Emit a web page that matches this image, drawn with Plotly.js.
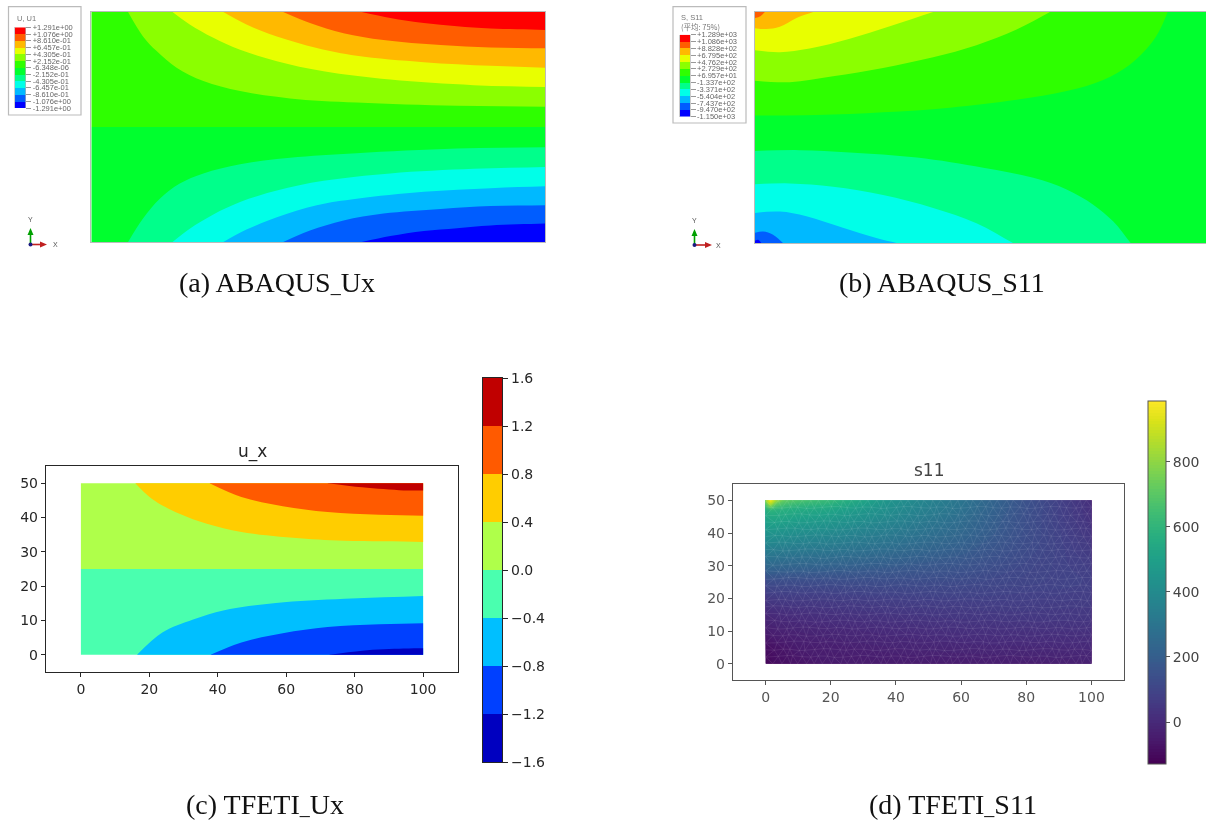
<!DOCTYPE html>
<html><head><meta charset="utf-8">
<script src="https://cdn.plot.ly/plotly-3.0.1.min.js"></script>
<style>html,body{margin:0;padding:0;background:#fff}#g{width:1206px;height:820px}</style>
</head><body><div id="g"></div>
<script>
// ---- Shared band colours ----
const abqColors = ['#0000ff','#005dff','#00b9ff','#00ffe8','#00ff8b','#00ff2e','#2eff00','#8bff00','#e8ff00','#ffb900','#ff5d00','#ff0000'];
const jetColors = ['#0000c0','#0040ff','#00bfff','#4affaf','#afff4a','#ffcd00','#ff5a00','#c00000'];

// ---- Legend labels ----
const uLabels = ['-1.291e+00','-1.076e+00','-8.610e-01','-6.457e-01','-4.305e-01','-2.152e-01','-6.348e-06','+2.152e-01','+4.305e-01','+6.457e-01','+8.610e-01','+1.076e+00','+1.291e+00'];
const sLabels = ['-1.150e+03','-9.470e+02','-7.437e+02','-5.404e+02','-3.371e+02','-1.337e+02','+6.957e+01','+2.729e+02','+4.762e+02','+6.795e+02','+8.828e+02','+1.086e+03','+1.289e+03'];
const jetLevels = [-1.4,-1.0,-0.6,-0.2,0.2,0.6,1.0,1.4];
const jetTicks = [-1.6,-1.2,-0.8,-0.4,0,0.4,0.8,1.2,1.6];
const jetTickText = ['\u22121.6','\u22121.2','\u22120.8','\u22120.4','0.0','0.4','0.8','1.2','1.6'];

// ---- (a) ABAQUS Ux: band edges, upper half (top edge -> right edge) ----
const aLimeX=[8.1,11.4,14.4,18.8,24.7,32.8,43.8,58.5,80.6,100];
const aLimeY=[50,44.7,41.5,37.9,35,32.8,31.2,30.3,29.6,29.4];
const aYellowX=[17.9,21.7,26.9,32.8,40.9,51.2,65.9,84.3,100];
const aYellowY=[50,47.3,44.4,41.8,39.3,37.1,35.3,34.1,33.7];
const aOrangeX=[29.1,34.2,40.9,49.7,58.5,73.3,88,100];
const aOrangeY=[50,47.3,44.7,42.2,40.5,39.1,38.3,37.9];
const aDarkOrangeX=[42.3,48.2,55.6,64.4,77,88,100];
const aDarkOrangeY=[50,47.6,45.4,43.9,42.8,42.3,42.1];
const aRedX=[59.6,65.9,73.3,80.6,88,100];
const aRedY=[50,48.7,47.6,46.9,46.4,46.1];
// lower half (bottom edge -> right edge)
const aSpringX=[8.1,11.4,15.1,19.5,24.7,32.8,43.8,58.5,80.6,100];
const aSpringY=[0,5.1,9.4,12.7,14.9,16.9,18.3,19.3,20.3,20.6];
const aCyanX=[17.9,21.7,26.9,32.8,40.9,51.2,65.9,84.3,100];
const aCyanY=[0,2.9,6,8.7,11.2,13.3,14.9,15.9,16.3];
const aSkyX=[29.1,34.2,40.9,49.7,58.5,73.3,88,100];
const aSkyY=[0,2.7,5.4,8,9.4,10.9,11.7,12.1];
const aAzureX=[42.3,48.2,55.6,64.4,77,88,100];
const aAzureY=[0,2.5,4.7,6.2,7.2,7.8,8];
const aBlueX=[59.6,65.9,73.3,80.6,88,100];
const aBlueY=[0,1.3,2.4,3,3.6,4];

// ---- (b) ABAQUS S11: band edges, upper left (left edge -> top edge) ----
const bGreenX=[0,13.6,28.4,43.2,58,69.1,77.2,83.1,87.6,89.8,91.5];
const bGreenY=[27.6,27.7,28.3,29.3,31,32.9,35.3,38.6,42.9,46.2,50];
const bLimeX=[0,7.7,17.3,28.4,39.5,49.1,58,65.4];
const bLimeY=[35.1,34.8,36.1,37.9,40.2,42.8,46.2,50];
const bYellowX=[0,5.5,12.1,21,29.9,39.5];
const bYellowY=[41.7,41.3,42.1,44.2,46.9,50];
const bOrangeX=[0,2.5,5.5,9.2,12.9];
const bOrangeY=[46.5,46.3,46.8,48.7,50];
const bDarkOrangeX=[0,1.2,2.2];
const bDarkOrangeY=[48.7,49.1,50];
// lower left (left edge -> bottom edge)
const bSpringX=[0,9.9,21,35.9,50.6,61.7,69.1,75,79.4,83.3];
const bSpringY=[19.9,20.1,19.6,18.5,16.3,14.1,11.6,8.3,4.7,0];
const bCyanX=[0,7.7,17.3,28.4,39.5,49.1,57.2];
const bCyanY=[12.7,12.9,12.2,10.4,7.6,4.3,0];
const bSkyX=[0,5.5,11.4,19.5,26.9,31.4];
const bSkyY=[6.5,6.8,5.8,3.3,1.1,0];
const bAzureX=[0,1.8,4,6.2];
const bAzureY=[2.2,2.5,1.8,0];
const bBlueX=[0,0.7,1.4];
const bBlueY=[0.5,0.7,0];

// ---- (c) TFETI Ux: band edges ----
const cOrangeX=[15.9,20.7,28.8,36.8,46.9,62,77.1,100];
const cOrangeY=[50,45.5,41.1,38.2,35.8,34.1,33.2,32.9];
const cDarkOrangeX=[37.6,46.9,59,72.1,87.2,100];
const cDarkOrangeY=[50,46,43.3,41.6,40.8,40.5];
const cDarkRedX=[72.1,82.2,94.3,100];
const cDarkRedY=[50,48.8,47.9,47.9];
const cSkyX=[16.4,23.8,32.8,41.9,57,77.1,100];
const cSkyY=[0,6.5,10.3,13,15.1,16.3,17.1];
const cBlueX=[37.9,46.9,59,72.1,87.2,100];
const cBlueY=[0,3.6,6.3,8.1,8.9,9.2];
const cNavyX=[72.6,82.2,94.3,100];
const cNavyY=[0,1.2,1.8,1.9];

// ---- (d) TFETI S11: field ----
const dX=[0,1.5,3,6,10,20,40,60,80,100];
const dY=[0,5,10,15,20,25,30,35,40,45,47,48.5,50];
const dZ00=[-110,-100,-90,-80,-70,-50,-45,-40,-35,-25];
const dZ05=[-90,-80,-70,-60,-45,-35,-20,-10,-5,0];
const dZ10=[-40,-35,-30,-25,-20,-10,5,20,25,25];
const dZ15=[0,0,5,10,15,25,40,50,55,50];
const dZ20=[60,60,60,65,65,70,80,85,80,70];
const dZ25=[130,130,130,130,130,130,130,120,100,85];
const dZ30=[250,245,240,235,230,220,190,160,110,75];
const dZ35=[350,345,340,335,325,310,260,200,125,60];
const dZ40=[450,445,440,430,415,390,320,240,135,45];
const dZ45=[530,540,540,530,510,480,380,270,140,30];
const dZ47=[580,600,590,570,550,520,400,285,145,25];
const dZ48=[680,800,700,640,610,570,415,295,148,22];
const dZ50=[820,980,850,720,680,620,430,300,150,20];
const sTicks=[0,200,400,600,800];
// approximate FE mesh: node columns, rows and small irregular node offsets
const meshX=[0,2.6,5.1,7.4,10.1,12.4,15.2,17.6,20.1,22.7,25.0,27.4,30.1,32.6,35.2,37.4,40.0,42.7,45.1,47.6,50.2,52.4,55.1,57.7,60.0,62.6,65.2,67.4,70.1,72.6,75.0,77.7,80.2,82.4,85.1,87.6,90.0,92.6,95.1,97.4,100];
const meshY=[0,2.2,4.3,6.6,8.7,10.9,13.0,15.2,17.4,19.5,21.8,23.9,26.1,28.2,30.4,32.5,34.8,36.9,39.1,41.2,43.4,45.6,47.8,50];
const meshOffX=[0.3,-0.25,0.1,-0.35,0.2,0.4,-0.1,-0.3,0.05,0.25,-0.2];
const meshOffY=[-0.2,0.25,0.05,-0.3,0.15,-0.05,0.3,-0.2,0.1];

const W=1206,H=820;
const hDom=(a,b)=>[a/W,b/W];
const vDom=(t,b)=>[1-b/H,1-t/H];
// a band is its edge curve, carried on past the data rectangle and closed round the outside of it
const band=(xs,ys,cx,cy,color,i)=>{
  const n=xs.length-1;
  const ex=xs[n]+(xs[n]-xs[n-1]), ey=ys[n]+(ys[n]-ys[n-1]);
  return {type:'scatter',mode:'lines',x:xs.concat([ex,cx+(cx>50?40:-40)]),y:ys.concat([ey,cy+(cy>25?40:-40)]),fill:'toself',fillcolor:color,
    line:{width:0,shape:'spline',smoothing:1},xaxis:'x'+i,yaxis:'y'+i,hoverinfo:'skip',showlegend:false};
};
const rect=(y0,y1,color,i)=>({type:'scatter',mode:'lines',x:[0,100,100,0,0],y:[y0,y0,y1,y1,y0],fill:'toself',fillcolor:color,
  line:{width:0},xaxis:'x'+i,yaxis:'y'+i,hoverinfo:'skip',showlegend:false});
const stepScale=cols=>{const s=[];cols.forEach((c,i)=>{s.push([i/cols.length,c]);s.push([(i+1)/cols.length,c]);});return s;};
const C=abqColors, J=jetColors;
const traces=[
 rect(25,50,C[6],1),rect(0,25,C[5],1),
 band(aLimeX,aLimeY,100,50,C[7],1),band(aYellowX,aYellowY,100,50,C[8],1),band(aOrangeX,aOrangeY,100,50,C[9],1),
 band(aDarkOrangeX,aDarkOrangeY,100,50,C[10],1),band(aRedX,aRedY,100,50,C[11],1),
 band(aSpringX,aSpringY,100,0,C[4],1),band(aCyanX,aCyanY,100,0,C[3],1),band(aSkyX,aSkyY,100,0,C[2],1),
 band(aAzureX,aAzureY,100,0,C[1],1),band(aBlueX,aBlueY,100,0,C[0],1),

 rect(0,50,C[5],2),
 band(bGreenX,bGreenY,0,50,C[6],2),band(bLimeX,bLimeY,0,50,C[7],2),band(bYellowX,bYellowY,0,50,C[8],2),
 band(bOrangeX,bOrangeY,0,50,C[9],2),band(bDarkOrangeX,bDarkOrangeY,0,50,C[10],2),
 band(bSpringX,bSpringY,0,0,C[4],2),band(bCyanX,bCyanY,0,0,C[3],2),band(bSkyX,bSkyY,0,0,C[2],2),
 band(bAzureX,bAzureY,0,0,C[1],2),band(bBlueX,bBlueY,0,0,C[0],2),

 rect(25,50,J[4],3),rect(0,25,J[3],3),
 // panel (c) bands sit on an overlay axis pair that spans exactly the data rectangle, so they clip to it
 band(cOrangeX,cOrangeY,100,50,J[5],8),band(cDarkOrangeX,cDarkOrangeY,100,50,J[6],8),band(cDarkRedX,cDarkRedY,100,50,J[7],8),
 band(cSkyX,cSkyY,100,0,J[2],8),band(cBlueX,cBlueY,100,0,J[1],8),band(cNavyX,cNavyY,100,0,J[0],8),

 {type:'contour',x:dX,y:dY,z:[dZ00,dZ05,dZ10,dZ15,dZ20,dZ25,dZ30,dZ35,dZ40,dZ45,dZ47,dZ48,dZ50],xaxis:'x4',yaxis:'y4',
  colorscale:'Viridis',zmin:-129,zmax:987,autocontour:false,contours:{start:-129,end:987,size:9,coloring:'fill',showlines:false},line:{width:0},hoverinfo:'skip',
  colorbar:{x:1148/W,xanchor:'left',y:1-764/H,yanchor:'bottom',lenmode:'pixels',len:363,thicknessmode:'pixels',thickness:18,xpad:0,ypad:0,
    tickmode:'array',tickvals:sTicks,ticktext:sTicks.map(String),ticks:'outside',ticklen:4,tickcolor:'#555',tickfont:{family:'DejaVu Sans',size:14,color:'#444'},outlinecolor:'#555',outlinewidth:1}},
];
// mesh overlay for (d)
(function(){
  const mx=[],my=[];
  const lastI=meshX.length-1,lastJ=meshY.length-1;
  const nx=(i,j)=>(i===0?0:i===lastI?100:Math.min(100,meshX[i]+(j%2?1.25:0)+meshOffX[(i*3+j*5)%meshOffX.length]));
  const ny=(i,j)=>(j===0||j===lastJ?meshY[j]:meshY[j]+meshOffY[(i*4+j*7)%meshOffY.length]);
  for(let j=0;j<=lastJ;j++){for(let i=0;i<=lastI;i++){
    const ax=nx(i,j),ay=ny(i,j);
    if(i<lastI){mx.push(ax,nx(i+1,j),null);my.push(ay,ny(i+1,j),null);}
    if(j<lastJ){mx.push(ax,nx(i,j+1),null);my.push(ay,ny(i,j+1),null);
      const k=j%2?i+1:i-1;
      if(k>=0&&k<=lastI){mx.push(ax,nx(k,j+1),null);my.push(ay,ny(k,j+1),null);}}
  }}
  traces.push({type:'scatter',mode:'lines',x:mx,y:my,xaxis:'x4',yaxis:'y4',line:{width:0.6,color:'rgba(255,255,255,0.15)'},hoverinfo:'skip',showlegend:false,connectgaps:false});
})();
const idx=abqColors.map((_,i)=>i);
const legendHeat=(i)=>({type:'heatmap',x:[0],y:idx.map(v=>v+0.5),z:idx.map(v=>[v]),zmin:-0.5,zmax:11.5,colorscale:stepScale(abqColors),showscale:false,xaxis:'x'+i,yaxis:'y'+i,hoverinfo:'skip'});
traces.push(legendHeat(5),legendHeat(6));
traces.push({type:'heatmap',x:[0],y:jetLevels,z:jetLevels.map(v=>[v]),zmin:-1.6,zmax:1.6,colorscale:stepScale(jetColors),showscale:false,xaxis:'x7',yaxis:'y7',hoverinfo:'skip'});

const hidden=(dom,lineColor,anchor,range)=>({domain:dom,range:range,anchor:anchor,showline:true,mirror:true,linecolor:lineColor,linewidth:1,showgrid:false,zeroline:false,ticks:'',showticklabels:false,fixedrange:true});
const boxed=(dom,anchor,range,color,tv)=>({domain:dom,range:range,anchor:anchor,showline:true,mirror:true,linecolor:color,linewidth:1.2,showgrid:false,zeroline:false,
  ticks:'outside',ticklen:4,tickcolor:color,tickmode:'array',tickvals:tv,ticktext:tv.map(String),tickfont:{family:'DejaVu Sans',size:14,color:color},fixedrange:true});
const legY=(dom,anchor,labels)=>({domain:dom,range:[0,12],anchor:anchor,side:'right',showline:true,mirror:true,linecolor:'#999',linewidth:0.5,showgrid:false,zeroline:false,
  ticks:'outside',ticklen:5,tickcolor:'#555',tickwidth:0.6,tickmode:'array',tickvals:labels.map((_,i)=>i),ticktext:labels,
  tickfont:{family:'Liberation Sans',size:7.5,color:'#666'},fixedrange:true});
const legX=(dom,anchor)=>({domain:dom,range:[-0.5,0.5],anchor:anchor,visible:false,fixedrange:true});
const xt=[0,20,40,60,80,100], yt=[0,10,20,30,40,50];
const txt=(x,y,text,size,family,color,extra)=>Object.assign({xref:'paper',yref:'paper',x:x/W,y:1-y/H,text:text,showarrow:false,xanchor:'center',yanchor:'middle',font:{size:size,family:family,color:color}},extra||{});
const stem=(x0,y0,x1,y1,color)=>({type:'line',xref:'paper',yref:'paper',x0:x0/W,x1:x1/W,y0:1-y0/H,y1:1-y1/H,line:{color:color,width:1.6}});
const head=(p,color)=>({type:'path',xref:'paper',yref:'paper',path:'M'+p.map(q=>(q[0]/W)+','+(1-q[1]/H)).join(' L')+' Z',fillcolor:color,line:{width:0}});
const serif='Liberation Serif';
const us='<span style="font-size:20px">_</span>';
const layout={width:W,height:H,margin:{l:0,r:0,t:0,b:0,pad:0},paper_bgcolor:'#fff',plot_bgcolor:'rgba(0,0,0,0)',showlegend:false,
 xaxis:hidden(hDom(91.3,545),'#bbb','y',[0,100]),yaxis:hidden(vDom(12,242),'#bbb','x',[0,50]),
 xaxis2:hidden(hDom(755,1206),'#bbb','y2',[0,100]),yaxis2:hidden(vDom(12,243),'#bbb','x2',[0,50]),
 xaxis3:boxed(hDom(46,458),'y3',[-10.2,110.2],'#262626',xt),yaxis3:boxed(vDom(466,672),'x3',[-5,55],'#262626',yt),
 xaxis4:boxed(hDom(733,1124),'y4',[-10,110],'#555',xt),yaxis4:boxed(vDom(484,680),'x4',[-5,55],'#555',yt),
 xaxis5:legX(hDom(15,25.7),'y5'),yaxis5:legY(vDom(27.3,108),'x5',uLabels),
 xaxis6:legX(hDom(680,690),'y6'),yaxis6:legY(vDom(34.7,116.7),'x6',sLabels),
 xaxis7:hidden(hDom(483,502),'#262626','y7',[-0.5,0.5]),
 yaxis7:{domain:vDom(378,762),range:[-1.6,1.6],anchor:'x7',side:'right',showline:true,mirror:true,linecolor:'#262626',linewidth:1.2,showgrid:false,zeroline:false,
  ticks:'outside',ticklen:5,tickcolor:'#262626',tickmode:'array',tickvals:jetTicks,ticktext:jetTickText,tickfont:{family:'DejaVu Sans',size:14,color:'#262626'},fixedrange:true},
 xaxis8:{domain:hDom(80.9,423.1),range:[0,100],anchor:'y8',visible:false,fixedrange:true},
 yaxis8:{domain:vDom(483.2,654.8),range:[0,50],anchor:'x8',visible:false,fixedrange:true},
 shapes:[
  {type:'rect',xref:'paper',yref:'paper',x0:8.5/W,x1:81/W,y0:1-115/H,y1:1-6.7/H,line:{color:'#bbb',width:1.2},fillcolor:'#fff',layer:'below'},
  {type:'rect',xref:'paper',yref:'paper',x0:673/W,x1:746/W,y0:1-123/H,y1:1-6.7/H,line:{color:'#bbb',width:1.2},fillcolor:'#fff',layer:'below'},
  stem(30.5,244.5,30.5,233,'#00a000'),stem(30.5,244.5,41,244.5,'#c02020'),
  stem(694.5,245,694.5,234,'#00a000'),stem(694.5,245,706,245,'#c02020'),
  head([[30.5,228],[27.5,235],[33.5,235]],'#00a000'),head([[47,244.5],[40,241.5],[40,247.5]],'#c02020'),
  head([[694.5,229],[691.5,236],[697.5,236]],'#00a000'),head([[712,245],[705,242],[705,248]],'#c02020'),
  {type:'circle',xref:'paper',yref:'paper',x0:28.5/W,x1:32.5/W,y0:1-246.5/H,y1:1-242.5/H,fillcolor:'#1a1a80',line:{width:0}},
  {type:'circle',xref:'paper',yref:'paper',x0:692.5/W,x1:696.5/W,y0:1-247/H,y1:1-243/H,fillcolor:'#1a1a80',line:{width:0}}
 ],
 annotations:[
  txt(277,282,'(a) ABAQUS'+us+'Ux',28,serif,'#111'),
  txt(942,282,'(b) ABAQUS'+us+'S11',28,serif,'#111'),
  txt(265,804,'(c) TFETI'+us+'Ux',28,serif,'#111'),
  txt(953,804,'(d) TFETI'+us+'S11',28,serif,'#111'),
  txt(252,451,'u_x',17,'DejaVu Sans','#262626'),
  txt(929,470,'s11',17,'DejaVu Sans','#444'),
  txt(15,18,'U, U1',7.5,'Liberation Sans','#777',{xanchor:'left'}),
  txt(679,17,'S, S11',7.5,'Liberation Sans','#777',{xanchor:'left'}),
  txt(679,26,'(平均: 75%)',7.5,'Noto Sans CJK SC','#777',{xanchor:'left'}),
  txt(30,219,'Y',7,'Liberation Sans','#555'),txt(55,244.5,'X',7,'Liberation Sans','#555'),
  txt(694,220,'Y',7,'Liberation Sans','#555'),txt(718,245,'X',7,'Liberation Sans','#555')
 ]
};
Plotly.newPlot('g',traces,layout,{staticPlot:true,displayModeBar:false}).then(()=>{
  // the source panels are bitmap screenshots: soften the plotted layers, keep the captions crisp
  document.querySelectorAll('#g .cartesianlayer, #g .colorbar').forEach(el=>{el.style.filter='blur(0.45px)';});
});
</script></body></html>
